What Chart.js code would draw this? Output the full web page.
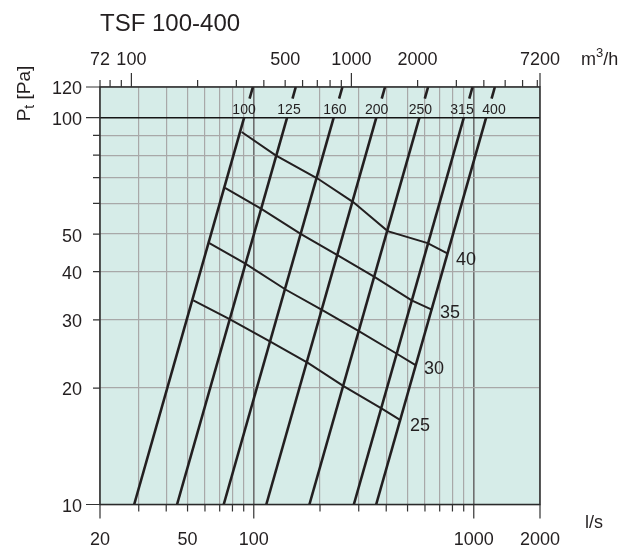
<!DOCTYPE html>
<html><head><meta charset="utf-8">
<script src="https://cdn.jsdelivr.net/npm/chart.js@4.4.0/dist/chart.umd.min.js"></script>
<style>html,body{margin:0;padding:0;background:#fff;}canvas{display:block;}</style>
</head><body>
<canvas id="c" width="639" height="546"></canvas>
<script>
// ---------- data ----------
const chartTitle = "TSF 100-400";
const fanSizes  = ["100","125","160","200","250","315","400"];
const fanQ10    = [28.6, 44.8, 73.0, 114, 179, 285, 360];    // l/s at 10 Pa
const fanQ100   = [90.4, 141.7, 230.8, 360.5, 566, 901, 1138]; // l/s at 100 Pa
const fanQ112   = [95.7, 150, 244.3, 381.6, 599, 954, 1205];  // l/s at 112 Pa
const fanQ120   = [99.1, 155.2, 252.9, 395, 620, 987, 1247];  // l/s at 120 Pa
const fanP      = [10, 100, 112, 120];                          // Pa of the points above
const fanLabelQ = [90.3, 144.6, 233.9, 362, 572, 884, 1236];
const fanLabelP = 105.5;

const curveNames = ["40","35","30","25"];
const curveQ = [
  [88.1,125.8,195,283,406,617,758],
  [74.0,107.8,164,240,352,522,644],
  [62.8,91.2,140,205,299,443,546],
  [53.1,78,120,177,257,382,466]
];
const curveP = [
  [91.8,79.9,69.6,60.5,50.9,47.4,44.6],
  [65.8,58.2,50.0,44.1,38.8,33.7,31.9],
  [47.4,42.0,35.9,31.8,28.1,24.6,22.9],
  [33.7,30.1,26.3,23.2,20.2,17.7,16.5]
];
const curveLabelQ = [830, 702, 594, 513];
const curveLabelP = [43.3, 31.5, 22.65, 16.1];

const xTickLabels   = [20,50,100,1000,2000];
const xGrid         = [20,30,40,50,60,70,80,90,100,200,300,400,500,600,700,800,900,1000,2000];
const xMajor        = [20,100,1000,2000];
const yTickLabels   = [10,20,30,40,50,100,120];
const yGrid         = [10,20,30,40,50,60,70,80,90,100,120];
const yMajor        = [10,100,120];
const topTickLabels = [72,100,500,1000,2000,7200];
const topTicks      = [72,80,90,100,200,300,400,500,600,700,800,900,1000,2000,3000,4000,5000,6000,7000,7200];
const topMajor      = [100,1000,7200];

// ---------- chart ----------
const FONT = "'Liberation Sans', Arial, Helvetica, sans-serif";
const INK = '#231f20';

const datasets = [];
fanSizes.forEach((s,i)=>{
  const style = {borderColor:INK, borderWidth:2.6, pointRadius:0, showLine:true, borderCapStyle:'butt', fill:false};
  datasets.push(Object.assign({label:s+'a', data:[{x:fanQ10[i],y:fanP[0]},{x:fanQ100[i],y:fanP[1]}]}, style));
  datasets.push(Object.assign({label:s+'b', data:[{x:fanQ112[i],y:fanP[2]},{x:fanQ120[i],y:fanP[3]}]}, style));
});
curveNames.forEach((n,i)=>{
  datasets.push({label:n, data:curveQ[i].map((q,k)=>({x:q,y:curveP[i][k]})),
    borderColor:INK, borderWidth:2, pointRadius:0, showLine:true, fill:false, borderJoinStyle:'miter'});
});

function cap(size){ return size*0.716; }

const deco = {
  id:'deco',
  beforeDraw(chart){
    const {ctx, chartArea:a} = chart;
    ctx.save();
    ctx.fillStyle = '#d6ece8';
    ctx.fillRect(a.left, a.top, a.right-a.left, a.bottom-a.top);
    ctx.restore();
  },
  afterDraw(chart){
    const {ctx, chartArea:a} = chart;
    const xs = chart.scales.x, ys = chart.scales.y, ts = chart.scales.top;
    ctx.save();
    // frame
    ctx.strokeStyle = '#2a2a2a'; ctx.lineWidth = 1.5;
    ctx.strokeRect(a.left, a.top, a.right-a.left, a.bottom-a.top);
    // tick marks
    ctx.lineWidth = 1.2; ctx.strokeStyle = '#333';
    ctx.beginPath();
    xGrid.forEach(v=>{ const p = xs.getPixelForValue(v); const l = xMajor.includes(v)?14:7;
      ctx.moveTo(p, a.bottom); ctx.lineTo(p, a.bottom+l); });
    yGrid.forEach(v=>{ const p = ys.getPixelForValue(v); const l = yMajor.includes(v)?14:7;
      ctx.moveTo(a.left-l, p); ctx.lineTo(a.left, p); });
    topTicks.forEach(v=>{ const p = ts.getPixelForValue(v); const l = topMajor.includes(v)?14:7;
      ctx.moveTo(p, a.top-l); ctx.lineTo(p, a.top); });
    ctx.stroke();

    ctx.fillStyle = '#231f20';
    ctx.textBaseline = 'alphabetic';
    // bottom labels
    ctx.font = '18px '+FONT; ctx.textAlign = 'center';
    xTickLabels.forEach(v=> ctx.fillText(String(v), xs.getPixelForValue(v), 545));
    // top labels
    topTickLabels.forEach(v=> ctx.fillText(String(v), ts.getPixelForValue(v), 65));
    // left labels
    ctx.textAlign = 'right';
    yTickLabels.forEach(v=> ctx.fillText(String(v), 82, ys.getPixelForValue(v)+cap(18)/2+1));
    // units
    ctx.textAlign = 'left';
    ctx.fillText('l/s', 585, 528);
    let ux = 581;
    ctx.fillText('m', ux, 65); ux += ctx.measureText('m').width;
    ctx.font = '13px '+FONT; ctx.fillText('3', ux, 57); ux += ctx.measureText('3').width;
    ctx.font = '18px '+FONT; ctx.fillText('/h', ux, 65);
    // title
    ctx.font = '24px '+FONT; ctx.fillText(chartTitle, 100, 31);
    // y title
    ctx.save();
    ctx.translate(23, 93.5); ctx.rotate(-Math.PI/2);
    ctx.font = '19px '+FONT;
    const wP = ctx.measureText('P').width, wR = ctx.measureText(' [Pa]').width;
    ctx.font = '14px '+FONT; const wt = ctx.measureText('t').width;
    let sx = -(wP+wt+wR)/2;
    ctx.font = '19px '+FONT; ctx.fillText('P', sx, 6.8); sx += wP;
    ctx.font = '14px '+FONT; ctx.fillText('t', sx, 11); sx += wt;
    ctx.font = '19px '+FONT; ctx.fillText(' [Pa]', sx, 6.8);
    ctx.restore();
    // fan labels
    ctx.font = '14px '+FONT; ctx.textAlign = 'center';
    fanSizes.forEach((s,i)=> ctx.fillText(s, xs.getPixelForValue(fanLabelQ[i]), ys.getPixelForValue(fanLabelP)+cap(14)/2));
    // curve labels
    ctx.font = '18px '+FONT; ctx.textAlign = 'left';
    curveNames.forEach((n,i)=> ctx.fillText(n, xs.getPixelForValue(curveLabelQ[i]), ys.getPixelForValue(curveLabelP[i])+cap(18)/2));
    ctx.restore();
  }
};

new Chart(document.getElementById('c'), {
  type:'scatter',
  data:{datasets},
  options:{
    responsive:false, animation:false,
    layout:{padding:{left:0, right:99, top:0, bottom:0}},
    plugins:{legend:{display:false}, tooltip:{enabled:false}, title:{display:false}},
    scales:{
      x:{type:'logarithmic', position:'bottom', min:20, max:2000,
        afterBuildTicks:s=>{ s.ticks = xGrid.map(v=>({value:v})); },
        afterFit:s=>{ s.height = 41.5; },
        ticks:{display:false},
        border:{display:false},
        grid:{drawTicks:false,
          color:c=> (c.tick && (c.tick.value===100||c.tick.value===1000)) ? '#6e6e6e' : '#a8a8a8',
          lineWidth:c=> (c.tick && (c.tick.value===100||c.tick.value===1000)) ? 1.6 : 1.2}
      },
      top:{type:'logarithmic', axis:'x', position:'top', min:72, max:7200,
        afterBuildTicks:s=>{ s.ticks = topTicks.map(v=>({value:v})); },
        afterFit:s=>{ s.height = 87; },
        ticks:{display:false}, border:{display:false}, grid:{display:false}
      },
      y:{type:'logarithmic', position:'left', min:10, max:120,
        afterBuildTicks:s=>{ s.ticks = yGrid.map(v=>({value:v})); },
        afterFit:s=>{ s.width = 100; },
        ticks:{display:false},
        border:{display:false},
        grid:{drawTicks:false,
          color:c=> (c.tick && c.tick.value===100) ? '#151515' : '#a8a8a8',
          lineWidth:c=> (c.tick && c.tick.value===100) ? 1.6 : 1.2}
      }
    }
  },
  plugins:[deco]
});
</script>
</body></html>
